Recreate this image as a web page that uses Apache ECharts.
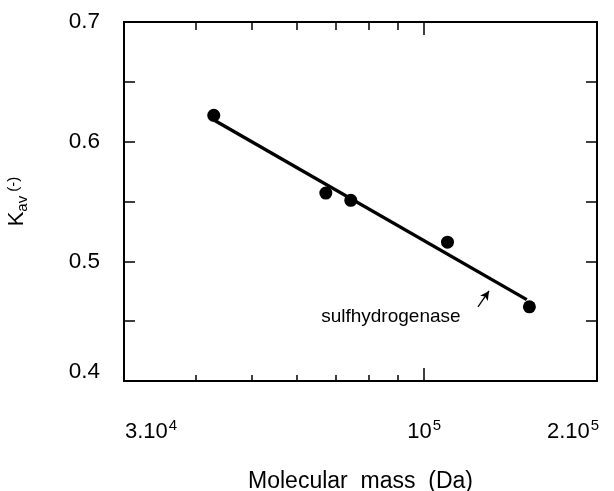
<!DOCTYPE html>
<html>
<head>
<meta charset="utf-8">
<script src="https://cdn.jsdelivr.net/npm/echarts@6/dist/echarts.min.js"></script>
<style>html,body{margin:0;padding:0;background:#fff}#c{width:614px;height:491px}</style>
</head>
<body>
<div id="c"></div>
<script>
// ---- data ----
const massDa = [43000, 67400, 74500, 109800, 152500];
const kav = [0.622, 0.557, 0.551, 0.516, 0.462];
const fitMass = [42500, 150900];
const fitKav = [0.6195, 0.468];
const xMinorTicks = [40000, 50000, 60000, 70000, 80000, 90000];
const xMajorTicks = [100000];
const xLabelValues = [30000, 100000, 200000];
const xLabelBase = ['3.10', '10', '2.10'];
const xLabelExp = ['4', '5', '5'];
const yLabelValues = [0.4, 0.5, 0.6, 0.7];
const annotText = 'sulfhydrogenase';
const annotPos = [87500, 0.4535];
const arrowFrom = [124100, 0.4619];
const arrowTo = [129700, 0.4753];

const X_MIN = 30000, X_MAX = 200000;
const FONT = '"Liberation Sans", Arial, sans-serif';
const lg = Math.log10;

const gridRect = {left: 124, top: 22, right: 17, bottom: 110, outerBoundsMode: 'none'};
const black = '#000';

function xTickAxis(gridIndex, position, ticks, len, withLabels) {
  const ax = {
    type: 'value', gridIndex: gridIndex, position: position,
    min: lg(X_MIN), max: lg(X_MAX),
    axisLine: {show: true, onZero: false, lineStyle: {color: black, width: 2}},
    axisTick: {show: true, inside: true, length: len, customValues: ticks.map(lg), lineStyle: {color: black, width: 1.5}},
    splitLine: {show: false},
    axisLabel: {show: false}
  };
  if (withLabels) {
    ax.axisLabel = {
      show: true, margin: 37, fontFamily: FONT, color: black,
      customValues: xLabelValues.map(lg),
      formatter: function (v) {
        const m = Math.round(Math.pow(10, v));
        const i = xLabelValues.indexOf(m);
        if (i < 0) return '';
        const st = i === 0 ? 'mn' : (i === xLabelValues.length - 1 ? 'mx' : 'b');
        return '{' + st + '|' + xLabelBase[i] + '}{sup|' + xLabelExp[i] + '}' + (i === xLabelValues.length - 1 ? '{pr|}' : '');
      },
      rich: {
        b: {fontSize: 22, fontFamily: FONT, color: black, lineHeight: 28},
        mn: {fontSize: 22, fontFamily: FONT, color: black, lineHeight: 28, padding: [0, 0, 0, 54]},
        mx: {fontSize: 22, fontFamily: FONT, color: black, lineHeight: 28},
        pr: {width: 48},
        sup: {fontSize: 15, fontFamily: FONT, color: black, verticalAlign: 'top', lineHeight: 28, padding: [0, 0, 14, 1]}
      }
    };
    ax.name = 'Molecular  mass  (Da)';
    ax.nameLocation = 'middle';
    ax.nameGap = 89;
    ax.nameTextStyle = {fontSize: 23, fontFamily: FONT, color: black};
  }
  return ax;
}

const option = {
  backgroundColor: '#fff',
  animation: false,
  grid: [Object.assign({}, gridRect), Object.assign({}, gridRect), Object.assign({}, gridRect)],
  xAxis: [
    {
      type: 'log', logBase: 10, gridIndex: 0, min: X_MIN, max: X_MAX, position: 'bottom',
      axisLine: {show: false}, axisTick: {show: false}, axisLabel: {show: false}, splitLine: {show: false}
    },
    xTickAxis(1, 'bottom', xMinorTicks, 6, true),
    xTickAxis(1, 'top', xMinorTicks, 8, false),
    xTickAxis(2, 'bottom', xMajorTicks, 13, false),
    xTickAxis(2, 'top', xMajorTicks, 13, false)
  ],
  yAxis: [
    {
      type: 'value', gridIndex: 0, position: 'left', min: 0.4, max: 0.7, interval: 0.05,
      axisLine: {show: true, onZero: false, lineStyle: {color: black, width: 2}},
      axisTick: {show: true, inside: true, length: 11, lineStyle: {color: black, width: 1.5}},
      splitLine: {show: false},
      axisLabel: {
        show: true, margin: 24, fontFamily: FONT, fontSize: 22.5, color: black,
        formatter: function (v) {
          const r = Math.round(v * 100) / 100;
          const i = yLabelValues.findIndex(function (y) { return Math.abs(y - r) < 1e-6; });
          if (i < 0) return '';
          return i === 0 ? '{lo|' + r.toFixed(1) + '}' : r.toFixed(1);
        },
        rich: {lo: {fontSize: 22.5, fontFamily: FONT, color: black, padding: [0, 0, 18, 0]}}
      },
      name: '{k|K}{sub|av}{p| (-)}',
      nameLocation: 'middle', nameGap: 94,
      nameTextStyle: {
        rich: {
          k: {fontSize: 22, fontFamily: FONT, color: black, lineHeight: 26},
          sub: {fontSize: 15, fontFamily: FONT, color: black, verticalAlign: 'bottom', lineHeight: 26, padding: [12, 0, 0, 0]},
          p: {fontSize: 15, fontFamily: FONT, color: black, lineHeight: 26, padding: [0, 0, 6, 0]}
        }
      }
    },
    {
      type: 'value', gridIndex: 0, position: 'right', min: 0.4, max: 0.7, interval: 0.05,
      axisLine: {show: true, onZero: false, lineStyle: {color: black, width: 2}},
      axisTick: {show: true, inside: true, length: 11, lineStyle: {color: black, width: 1.5}},
      splitLine: {show: false}, axisLabel: {show: false}
    },
    {type: 'value', gridIndex: 1, min: 0.4, max: 0.7, show: false},
    {type: 'value', gridIndex: 2, min: 0.4, max: 0.7, show: false}
  ],
  series: [
    {
      type: 'line', xAxisIndex: 0, yAxisIndex: 0,
      data: fitMass.map(function (m, i) { return [m, fitKav[i]]; }),
      showSymbol: false, symbol: 'none',
      lineStyle: {color: black, width: 3.4}
    },
    {
      type: 'scatter', xAxisIndex: 0, yAxisIndex: 0,
      data: massDa.map(function (m, i) { return [m, kav[i]]; }),
      symbol: 'circle', symbolSize: 13,
      itemStyle: {color: black, opacity: 1},
      markPoint: {
        symbol: 'circle', symbolSize: 0,
        label: {show: true, position: 'inside', formatter: annotText, fontSize: 19, fontFamily: FONT, color: black},
        data: [{coord: annotPos}]
      },
      markLine: {
        silent: true, symbol: ['none', 'arrow'], symbolSize: [7, 9],
        lineStyle: {color: black, width: 1.3, type: 'solid'},
        label: {show: false},
        data: [[{coord: arrowFrom}, {coord: arrowTo}]]
      }
    }
  ]
};

const chart = echarts.init(document.getElementById('c'), null, {renderer: 'canvas'});
chart.setOption(option);
</script>
</body>
</html>
